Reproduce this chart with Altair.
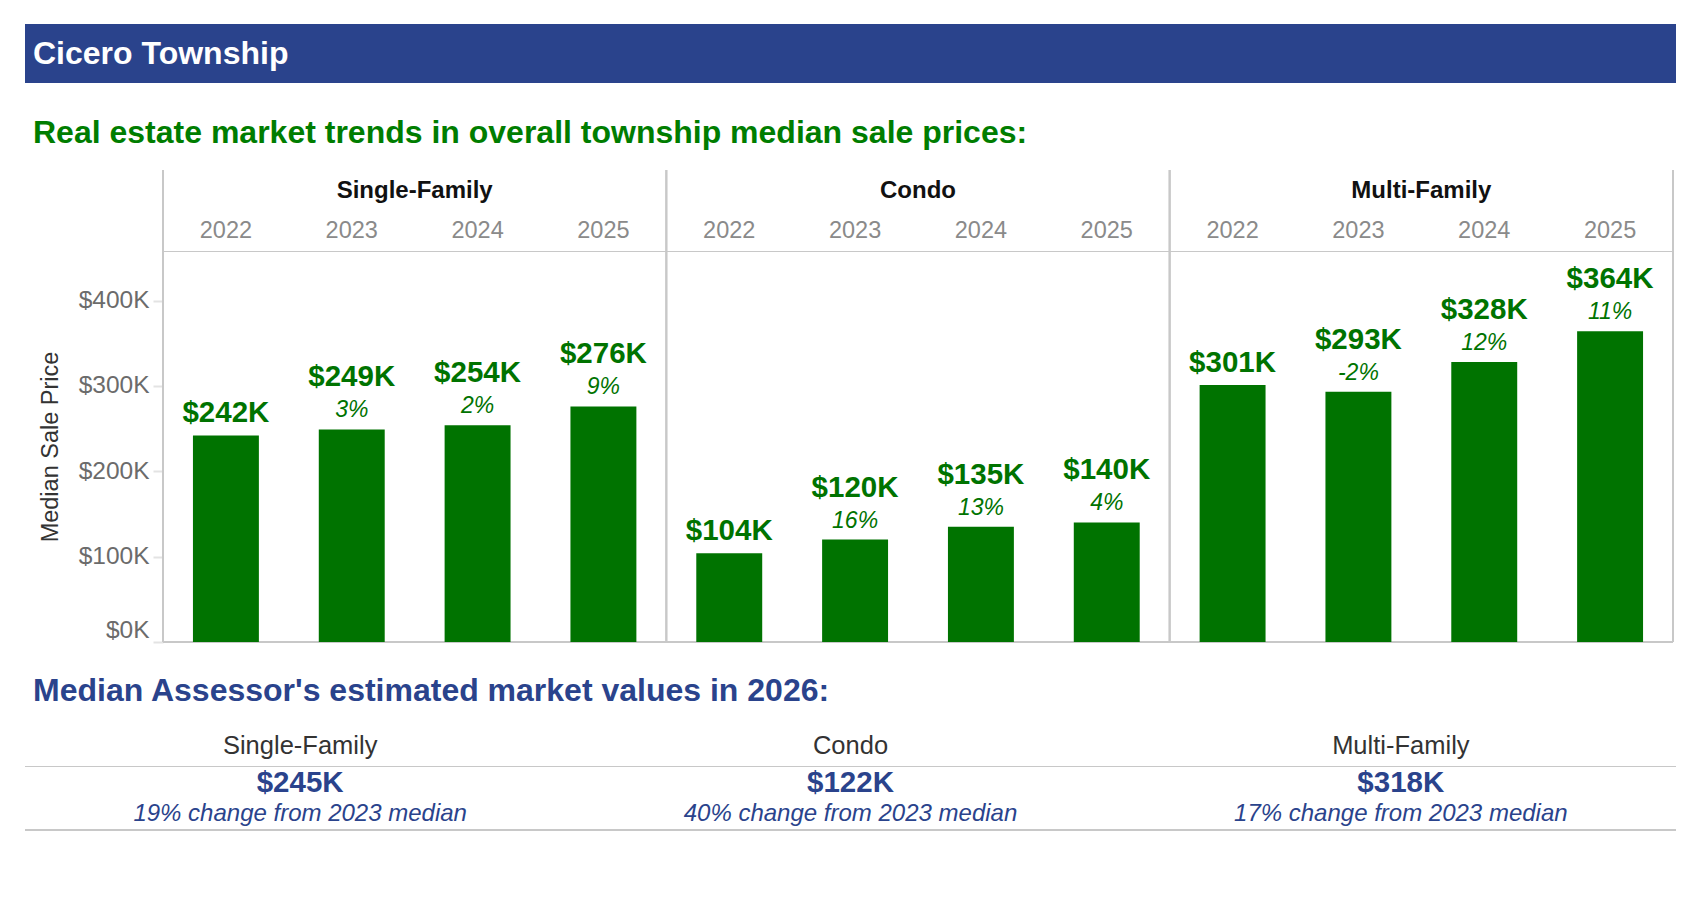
import altair as alt
import pandas as pd

FONT = "Liberation Sans"

banner_title = "Cicero Township"
trend_title = "Real estate market trends in overall township median sale prices:"
assessor_title = "Median Assessor's estimated market values in 2026:"

categories = ["Single-Family", "Condo", "Multi-Family"]
years = ["2022", "2023", "2024", "2025"]

# median sale price per year (dollars)
single_family = [242000, 249000, 254000, 276000]
condo = [104000, 120000, 135000, 140000]
multi_family = [301000, 293000, 328000, 364000]

# year-over-year change (percent); nothing for the first year
single_family_change = [None, 3, 2, 9]
condo_change = [None, 16, 13, 4]
multi_family_change = [None, -2, 12, 11]

# assessor's 2026 estimates and their change from the 2023 median (percent)
assessed_2026 = [245000, 122000, 318000]
assessed_change = [19, 40, 17]

BLUE = "#2a438c"
GREEN = "#007300"
TITLE_GREEN = "#007d00"
LINE = "#c8c8c8"

W, H = 1510, 391       # plot area of the three bar panels
LEFT = 138             # how far the banner and table reach left of the panels
RIGHT = W + 3

rows = []
for cat, vals, chg in zip(
    categories,
    [single_family, condo, multi_family],
    [single_family_change, condo_change, multi_family_change],
):
    for yr, v, c in zip(years, vals, chg):
        rows.append({"category": cat, "year": yr, "key": cat + " " + yr,
                     "price": v, "change": c})
prices = pd.DataFrame(rows)
keys = list(prices["key"])
cats = pd.DataFrame({"category": categories})
assessed = pd.DataFrame(
    {"category": categories, "value": assessed_2026, "change": assessed_change}
)
single = pd.DataFrame({"n": [0]})

# ---- banner and section title -------------------------------------------
banner = alt.Chart(single).mark_rect(color=BLUE).encode(
    x=alt.value(-LEFT), x2=alt.value(RIGHT), y=alt.value(0), y2=alt.value(59)
)
banner_text = alt.Chart(single).mark_text(
    text=banner_title, font=FONT, fontSize=32, fontWeight="bold",
    color="white", align="left", baseline="middle",
).encode(x=alt.value(-130), y=alt.value(29.5))
trend_text = alt.Chart(single).mark_text(
    text=trend_title, font=FONT, fontSize=32, fontWeight="bold",
    color=TITLE_GREEN, align="left", baseline="middle",
).encode(x=alt.value(-130), y=alt.value(109))
top = alt.layer(banner, banner_text, trend_text).properties(width=W, height=125)

# ---- bar panels -----------------------------------------------------------
# one band per category/year pair; bars are the band, gaps are the padding
x_key = alt.X(
    "key:N", sort=keys,
    scale=alt.Scale(domain=keys, paddingInner=0.476, paddingOuter=0.238),
    axis=None,
)
# one band per category, used for the panel headers and separators
cat_scale = alt.Scale(domain=categories, paddingInner=0, paddingOuter=0)
y_price = alt.Y(
    "price:Q",
    scale=alt.Scale(domain=[0, 458000], nice=False),
    axis=alt.Axis(
        values=[0, 100000, 200000, 300000, 400000],
        labelExpr="'$' + datum.value / 1000 + 'K'",
        labelFont=FONT, labelFontSize=24.5, labelColor="#6b6b6b",
        labelPadding=4, labelFlush=True,
        tickSize=10, tickColor="#e3e3e3", tickWidth=2,
        domain=False, grid=False,
        title="Median Sale Price", titleFont=FONT, titleFontSize=23.5,
        titleFontWeight="normal", titleColor="#333333", titlePadding=16,
    ),
)

base = alt.Chart(prices)
bars = base.mark_bar(color=GREEN).encode(x=x_key, y=y_price)

price_label = "'$' + round(datum.price / 1000) + 'K'"
first_labels = base.transform_filter("!isValid(datum.change)").transform_calculate(
    label=price_label
).mark_text(
    font=FONT, fontSize=29.5, fontWeight="bold", color=GREEN,
    baseline="alphabetic", dy=-13,
).encode(x=x_key, y="price:Q", text="label:N")
later_labels = base.transform_filter("isValid(datum.change)").transform_calculate(
    label=price_label
).mark_text(
    font=FONT, fontSize=29.5, fontWeight="bold", color=GREEN,
    baseline="alphabetic", dy=-43,
).encode(x=x_key, y="price:Q", text="label:N")
change_labels = base.transform_filter("isValid(datum.change)").transform_calculate(
    label="datum.change + '%'"
).mark_text(
    font=FONT, fontSize=23, fontStyle="italic", color=GREEN,
    baseline="alphabetic", dy=-12,
).encode(x=x_key, y="price:Q", text="label:N")

year_labels = base.mark_text(
    font=FONT, fontSize=23.5, color="#8a8a8a", baseline="middle"
).encode(x=x_key, y=alt.value(-20), text="year:N")
cat_labels = alt.Chart(cats).mark_text(
    font=FONT, fontSize=24, fontWeight="bold", color="#111111", baseline="middle"
).encode(
    x=alt.X("category:N", sort=categories, scale=cat_scale, axis=None),
    y=alt.value(-60), text="category:N",
)
sep_left = alt.Chart(cats).mark_rule(color=LINE, strokeWidth=2).encode(
    x=alt.X("category:N", sort=categories, scale=cat_scale, axis=None,
            bandPosition=0),
    y=alt.value(-81), y2=alt.value(H),
)
sep_right = alt.Chart(cats).mark_rule(color=LINE, strokeWidth=2).encode(
    x=alt.X("category:N", sort=categories, scale=cat_scale, axis=None,
            bandPosition=1),
    y=alt.value(-81), y2=alt.value(H),
)
top_line = alt.Chart(single).mark_rule(color=LINE, strokeWidth=1).encode(
    x=alt.value(0), x2=alt.value(W), y=alt.value(0.5)
)
base_line = alt.Chart(single).mark_rule(color=LINE, strokeWidth=2).encode(
    x=alt.value(0), x2=alt.value(W), y=alt.value(H)
)

panels = alt.layer(
    sep_left, sep_right, top_line, base_line,
    bars, first_labels, later_labels, change_labels, year_labels, cat_labels,
).resolve_scale(x="independent").properties(width=W, height=H)

# ---- assessor table ---------------------------------------------------------
x_tbl = alt.X(
    "category:N", sort=categories,
    scale=alt.Scale(domain=categories, range=[-LEFT, RIGHT],
                    paddingInner=0, paddingOuter=0),
    axis=None,
)
tbl = alt.Chart(assessed)
tbl_title = alt.Chart(single).mark_text(
    text=assessor_title, font=FONT, fontSize=32, fontWeight="bold",
    color=BLUE, align="left", baseline="middle",
).encode(x=alt.value(-130), y=alt.value(28))
tbl_head = tbl.mark_text(
    font=FONT, fontSize=25.5, color="#333333", baseline="middle"
).encode(x=x_tbl, y=alt.value(83), text="category:N")
tbl_value = tbl.transform_calculate(
    label="'$' + round(datum.value / 1000) + 'K'"
).mark_text(
    font=FONT, fontSize=29.5, fontWeight="bold", color=BLUE, baseline="middle"
).encode(x=x_tbl, y=alt.value(120), text="label:N")
tbl_change = tbl.transform_calculate(
    label="datum.change + '% change from 2023 median'"
).mark_text(
    font=FONT, fontSize=24, fontStyle="italic", color=BLUE, baseline="middle"
).encode(x=x_tbl, y=alt.value(151), text="label:N")
tbl_rule1 = alt.Chart(single).mark_rule(color=LINE, strokeWidth=1).encode(
    x=alt.value(-LEFT), x2=alt.value(RIGHT), y=alt.value(103.5)
)
tbl_rule2 = alt.Chart(single).mark_rule(color=LINE, strokeWidth=2).encode(
    x=alt.value(-LEFT), x2=alt.value(RIGHT), y=alt.value(167)
)
table = alt.layer(
    tbl_rule1, tbl_rule2, tbl_title, tbl_head, tbl_value, tbl_change
).properties(width=W, height=172)

chart = alt.vconcat(top, panels, table, spacing=20).properties(
    padding={"left": 24, "top": 24, "right": 10, "bottom": 10},
    background="white",
).configure_view(strokeOpacity=0)

chart.save("out.html", embed_options={"renderer": "svg", "actions": False})
